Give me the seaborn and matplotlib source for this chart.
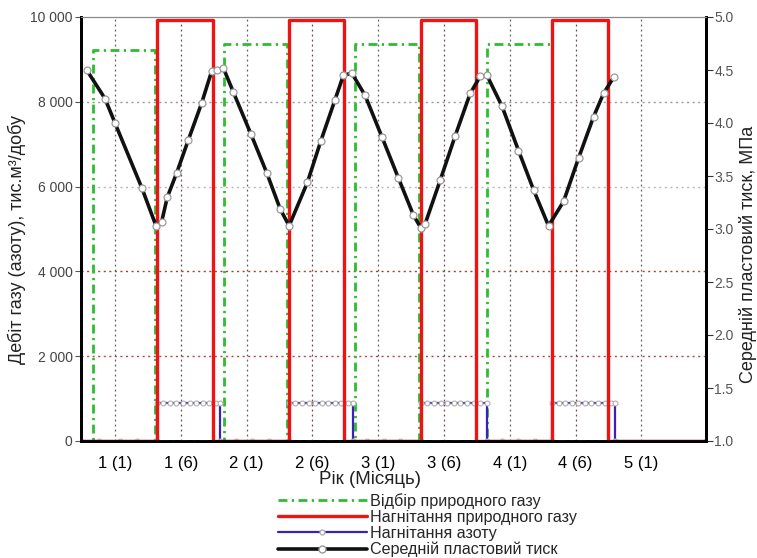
import matplotlib
matplotlib.use("Agg")
import matplotlib.pyplot as plt
import seaborn as sns
import pandas as pd
from matplotlib.lines import Line2D

# ---------------- data (x in months from "1 (1)") ----------------
tick_pos = [0, 6, 12, 18, 24, 30, 36, 42, 48]
tick_labels = ["1 (1)", "1 (6)", "2 (1)", "2 (6)", "3 (1)", "3 (6)", "4 (1)", "4 (6)", "5 (1)"]

green_x = [-3.1, -2.0, -2.0, 3.65, 3.65, 9.95, 9.95, 15.7, 15.7, 21.9, 21.9, 27.74,
           27.74, 33.95, 33.95, 39.88, 39.88, 53.9]
green_y = [0, 0, 9210, 9210, 0, 0, 9370, 9370, 0, 0, 9370, 9370, 0, 0, 9370, 9370, 0, 0]

red_x = [-3.1, 3.83, 3.83, 8.94, 8.94, 15.88, 15.88, 20.9, 20.9, 27.9, 27.9, 32.94,
         32.94, 39.88, 39.88, 44.96, 44.96, 53.9]
red_y = [0, 0, 9920, 9920, 0, 0, 9920, 9920, 0, 0, 9920, 9920, 0, 0, 9920, 9920, 0, 0]

blue_x = [-3.1, -1.5, 0.5, 2.0, 3.83,
          3.83, 4.4, 5.0, 5.6, 6.2, 6.8, 7.4, 8.0, 8.6, 9.2, 9.58,
          9.58, 11.0, 12.5, 14.0, 15.88,
          15.88, 16.45, 17.05, 17.65, 18.25, 18.85, 19.45, 20.05, 20.65, 21.25, 21.69,
          21.69, 23.0, 24.5, 26.0, 27.9,
          27.9, 28.5, 29.1, 29.7, 30.3, 30.9, 31.5, 32.1, 32.7, 33.3, 33.95,
          33.95, 35.3, 36.8, 38.3, 39.88,
          39.88, 40.45, 41.05, 41.65, 42.25, 42.85, 43.45, 44.05, 44.65, 45.2, 45.63,
          45.63, 53.9]
blue_y = [0, 0, 0, 0, 0,
          900, 900, 900, 900, 900, 900, 900, 900, 900, 900, 900,
          0, 0, 0, 0, 0,
          900, 900, 900, 900, 900, 900, 900, 900, 900, 900, 900,
          0, 0, 0, 0, 0,
          900, 900, 900, 900, 900, 900, 900, 900, 900, 900, 900,
          0, 0, 0, 0, 0,
          900, 900, 900, 900, 900, 900, 900, 900, 900, 900, 900,
          0, 0]

black_x = [-2.58, -0.91, 0.0, 2.44, 3.74, 4.26, 4.77, 5.63, 6.69, 7.91, 8.82, 9.28, 9.88,
           10.80, 12.38, 13.84, 15.06, 15.88, 17.55, 18.77, 20.07, 20.83, 21.60, 22.81,
           24.34, 25.85, 27.22, 27.90, 28.29, 29.66, 31.03, 32.40, 33.31, 33.92, 35.29,
           36.80, 38.17, 39.54, 40.91, 42.28, 43.65, 44.56, 45.47]
black_y = [4.50, 4.23, 4.00, 3.39, 3.03, 3.07, 3.30, 3.53, 3.84, 4.19, 4.49, 4.50, 4.52,
           4.29, 3.90, 3.53, 3.19, 3.03, 3.44, 3.83, 4.22, 4.45, 4.47, 4.26,
           3.87, 3.48, 3.13, 3.01, 3.05, 3.46, 3.88, 4.28, 4.44, 4.45, 4.16,
           3.74, 3.37, 3.03, 3.26, 3.67, 4.06, 4.28, 4.43]

lab_green = "Відбір природного газу"
lab_red = "Нагнітання природного газу"
lab_blue = "Нагнітання азоту"
lab_black = "Середній пластовий тиск"

# ---------------- style ----------------
sns.set_style("white")
plt.rcParams["font.family"] = ["Liberation Sans", "DejaVu Sans"]

W, H = 757, 558
fig = plt.figure(figsize=(W / 100, H / 100), dpi=100)
ax = fig.add_axes([81 / W, 1 - 441 / H, (706 - 81) / W, (441 - 17) / H])
ax2 = ax.twinx()

C_GREEN = "#2ebd2e"
C_RED = "#ee1414"
C_BLUE = "#3a22b8"
C_BLACK = "#111111"

dg = pd.DataFrame({"x": green_x, "y": green_y})
dr = pd.DataFrame({"x": red_x, "y": red_y})
db = pd.DataFrame({"x": blue_x, "y": blue_y})
dk = pd.DataFrame({"x": black_x, "y": black_y})

sns.lineplot(data=dg, x="x", y="y", ax=ax, estimator=None, sort=False,
             color=C_GREEN, lw=2.0, linestyle=(0, (3.2, 1.6, 0.8, 1.6)), zorder=3)
sns.lineplot(data=db, x="x", y="y", ax=ax, estimator=None, sort=False,
             color=C_BLUE, lw=1.6, marker="o", markersize=3.5,
             markerfacecolor="white", markeredgecolor="#b0b0b0", markeredgewidth=0.8, zorder=4)
sns.lineplot(data=dr, x="x", y="y", ax=ax, estimator=None, sort=False,
             color=C_RED, lw=2.4, zorder=5, solid_joinstyle="round")
sns.lineplot(data=dk, x="x", y="y", ax=ax2, estimator=None, sort=False,
             color=C_BLACK, lw=2.6, marker="o", markersize=5,
             markerfacecolor="white", markeredgecolor="#9a9a9a", markeredgewidth=0.9, zorder=6)

ax.set_xlim(-3.1, 53.9)
ax.set_ylim(0, 10000)
ax2.set_ylim(1.0, 5.0)

# ticks
ax.set_xticks(tick_pos)
ax.set_xticklabels(tick_labels, fontsize=12, color="black")
yt = [0, 2000, 4000, 6000, 8000, 10000]
ax.set_yticks(yt)
ax.set_yticklabels([f"{v:,}".replace(",", " ") for v in yt], fontsize=10, color="#444444")
rt = [1.0, 1.5, 2.0, 2.5, 3.0, 3.5, 4.0, 4.5, 5.0]
ax2.set_yticks(rt)
ax2.set_yticklabels([f"{v:.1f}" for v in rt], fontsize=10, color="#555555")
ax.tick_params(axis="x", direction="out", length=3, color="#666666", pad=8)
ax.tick_params(axis="y", direction="out", length=4, color="#555555", pad=2)
ax2.tick_params(axis="y", direction="out", length=5, color="#333333", pad=1)
ax.set_xlabel("")
ax.set_ylabel("")
ax2.set_ylabel("")

# grid
ax.grid(False)
ax2.grid(False)
for v, c in zip([2000, 4000, 6000, 8000], ["#b04848", "#a04040", "#b8b8b8", "#9a9a9a"]):
    ax.axhline(v, color=c, lw=1.0, linestyle=(0, (1.5, 2.5)), zorder=1)
for i, xv in enumerate(tick_pos):
    ax.axvline(xv, color="#6a4a4a" if i % 2 else "#606060", lw=0.9,
               linestyle=(0, (1.5, 2.5)), zorder=1)

# spines
for a in (ax, ax2):
    a.spines["left"].set_color("black")
    a.spines["left"].set_linewidth(2.0)
    a.spines["right"].set_color("black")
    a.spines["right"].set_linewidth(2.0)
    a.spines["bottom"].set_color("black")
    a.spines["bottom"].set_linewidth(2.0)
    a.spines["top"].set_color("#888888")
    a.spines["top"].set_linewidth(0.8)

# axis labels
fig.text(17 / W, 1 - 239 / H, "Дебіт газу (азоту), тис.м³/добу", rotation=90,
         ha="center", va="center", fontsize=13, color="#222222")
fig.text(748 / W, 1 - 254 / H, "Середній пластовий тиск, МПа", rotation=90,
         ha="center", va="center", fontsize=13, color="#222222")
fig.text(370 / W, 1 - 480 / H, "Рік (Місяць)", ha="center", va="center",
         fontsize=13.5, color="#222222")

# legend
handles = [
    Line2D([], [], color=C_GREEN, lw=2.0, linestyle=(0, (3.2, 1.6, 0.8, 1.6))),
    Line2D([], [], color=C_RED, lw=2.4),
    Line2D([], [], color=C_BLUE, lw=1.6, marker="o", markersize=3.5,
           markerfacecolor="white", markeredgecolor="#b0b0b0"),
    Line2D([], [], color=C_BLACK, lw=2.6, marker="o", markersize=5,
           markerfacecolor="white", markeredgecolor="#9a9a9a"),
]
fig.legend(handles, [lab_green, lab_red, lab_blue, lab_black],
           loc="upper left", bbox_to_anchor=(278 / W, 1 - 493 / H),
           frameon=False, fontsize=11.6, handlelength=5.5, handletextpad=0.2,
           labelspacing=0.06, borderpad=0, borderaxespad=0, numpoints=1)

fig.savefig("out.png", dpi=100)
